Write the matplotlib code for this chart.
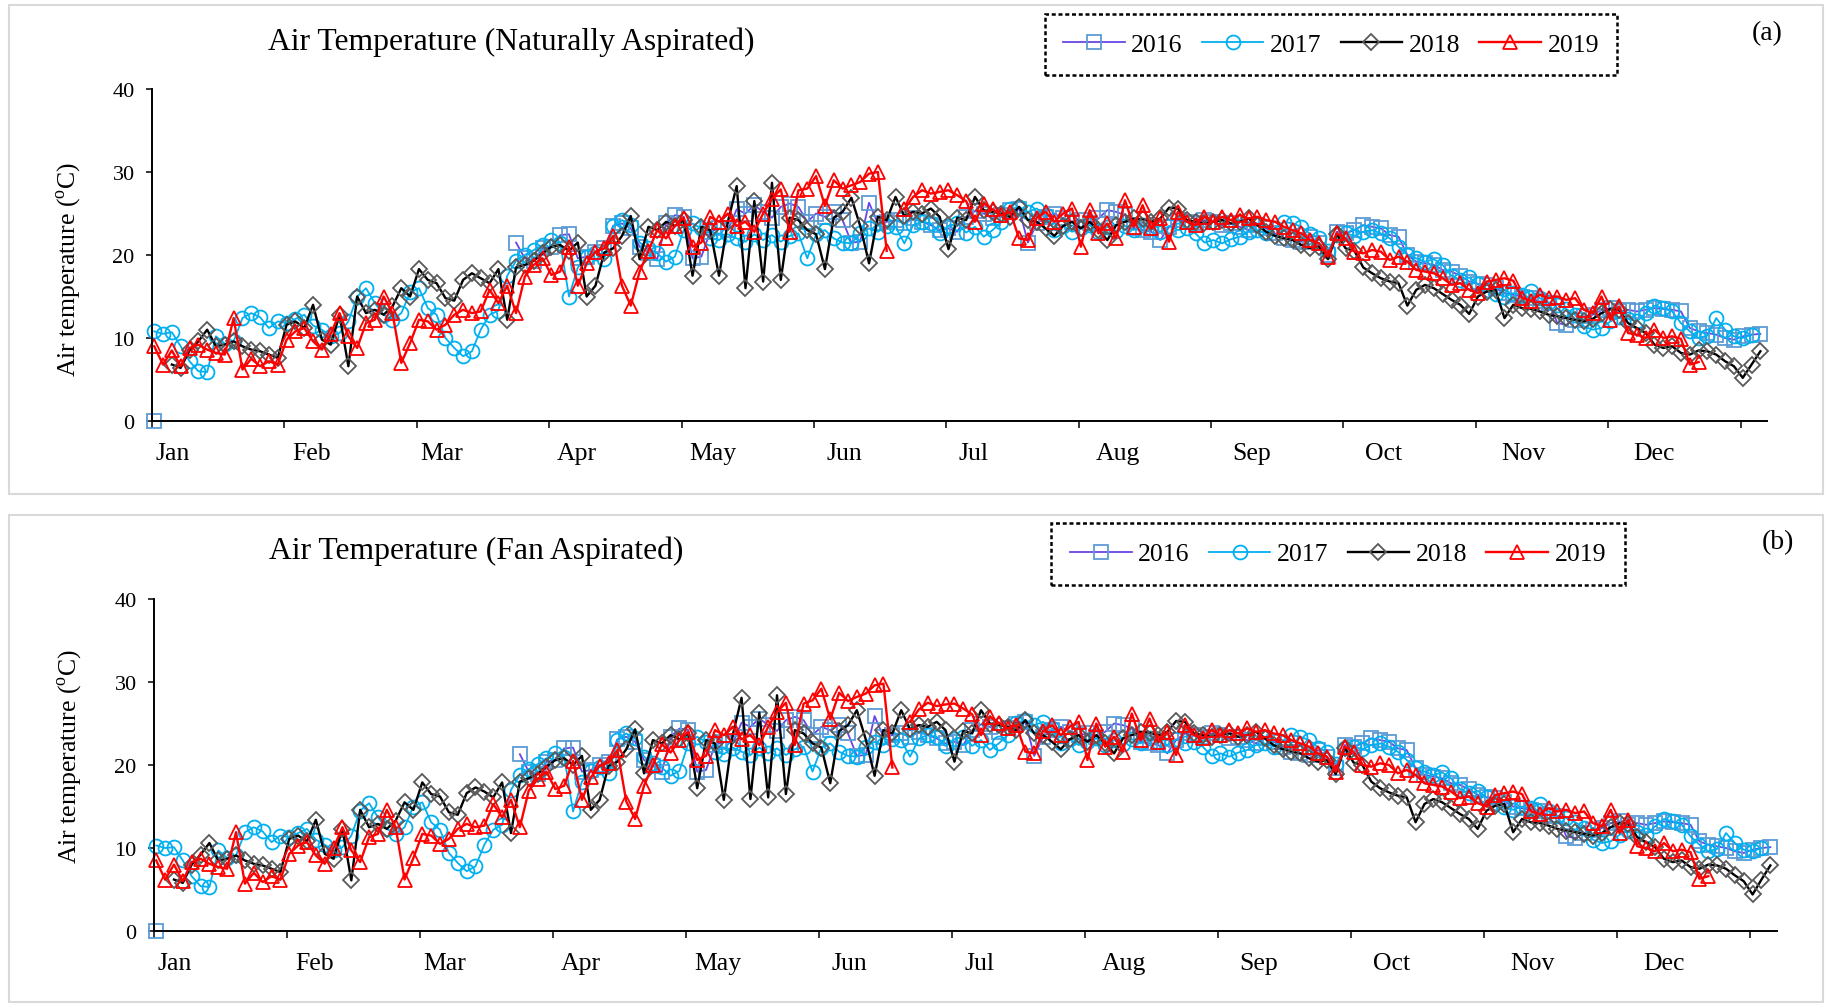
import numpy as np
import matplotlib
matplotlib.use("Agg")
import matplotlib.pyplot as plt
from matplotlib.patches import Rectangle
from matplotlib.lines import Line2D
import matplotlib.transforms as mtransforms

nan = np.nan

plt.rcParams["font.family"] = ["Liberation Serif", "DejaVu Serif"]
plt.rcParams["mathtext.fontset"] = "custom"
plt.rcParams["mathtext.rm"] = "Liberation Serif"

# %% data — values every second day of the year
days = np.arange(0, 366, 2)
months = ["Jan", "Feb", "Mar", "Apr", "May", "Jun",
          "Jul", "Aug", "Sep", "Oct", "Nov", "Dec"]
month_start = [0, 31, 60, 91, 121, 152, 182, 213, 244, 274, 305, 335]
years = ["2016", "2017", "2018", "2019"]

# (a) naturally aspirated
na_2016 = [0.0] + [nan] * 14 + [nan] * 15 + \
    [nan] * 11 + [21.5, 19.6, 19.3, 20.8] + \
    [21.0, 22.4, 22.5, 19.6, 19.8, 20.4, 20.8, 23.5, 23.8, 23.2, 21.0, 20.3, 19.5, 23.8, 24.8,
     24.6, 19.6, 19.8, 22.8, 23.2, 23.0, 25.5, 25.0, 26.0, 25.2, 24.5, 25.8, 26.2, 25.8, 24.0,
     25.0, 24.6, 25.2, 24.2, 21.5, 21.6, 26.3, 23.8, 24.0, 24.2, 23.8, 24.4, 24.0, 23.6, 23.0,
     23.2, 22.8, 24.6, 25.3, 25.0, 24.4, 24.8, 25.4, 25.6, 21.5, 23.8, 24.6, 25.0, 24.4, 24.0,
     24.2, 23.8, 24.4, 25.4, 25.2, 24.8, 23.2, 23.0, 22.8, 21.8, 23.4, 24.2, 24.0, 23.8, 24.2,
     24.0, 23.6, 23.8, 23.4, 23.0, 23.6, 23.2, 22.6, 22.0, 21.8, 21.6, 22.2, 21.4, 20.0, 22.8,
     22.6, 23.0, 23.6, 23.4, 23.2, 22.4, 22.2, 20.0, 19.2, 19.0, 18.8, 18.2, 18.0, 17.5, 16.8,
     16.5, 16.4, 16.0, 15.4, 15.2, 15.0, 14.8, 14.4, 14.2, 11.8, 11.6, 12.2, 12.6, 12.8, 13.4,
     13.6, 13.2, 13.4, 13.2, 13.4, 13.6, 13.5, 13.4, 13.2, 11.2, 10.8, 10.6, 10.4, 10.0, 9.8,
     10.2, 10.4, 10.5]

na_2017 = [10.8, 10.5, 10.7, 9.0, 7.2, 6.0, 5.9, 10.2, 9.3, 9.6, 12.4, 13.0, 12.5, 11.2, 12.0,
           11.8, 12.3, 12.8, 11.5, 11.0, 10.2, 10.6, 12.0, 15.0, 16.0, 14.2, 12.8, 12.2, 13.0, 15.5,
           16.0, 13.6, 12.8, 10.0, 8.8, 7.8, 8.4, 11.0, 12.8, 13.3, 17.5, 19.3, 20.0, 20.6, 21.2,
           21.8, 21.5, 15.0, 18.5, 19.8, 20.3, 19.5, 23.5, 24.2, 23.6, 21.5, 20.8, 20.2, 19.2, 19.8,
           23.0, 23.8, 23.2, 22.0, 21.8, 22.5, 22.0, 21.6, 22.5, 21.8, 22.4, 21.6, 22.3, 22.6, 19.6,
           22.5, 23.0, 22.0, 21.5, 21.4, 22.6, 23.2, 22.8, 23.5, 23.4, 21.4, 23.6, 24.0, 23.8, 22.7,
           23.5, 23.8, 22.7, 23.4, 22.2, 23.0, 24.0, 25.5, 25.8, 25.2, 25.6, 24.8, 23.0, 23.5, 22.8,
           23.2, 23.6, 22.8, 23.4, 22.9, 23.5, 23.0, 23.6, 23.2, 22.8, 23.5, 23.0, 23.2, 22.6, 21.5,
           21.8, 21.4, 21.9, 22.2, 22.8, 23.0, 22.6, 23.2, 24.0, 23.8, 23.4, 22.5, 22.0, 20.5, 22.4,
           22.6, 22.3, 22.8, 23.0, 22.6, 22.0, 21.0, 20.0, 19.6, 19.2, 19.5, 18.8, 17.5, 17.0, 17.3,
           16.5, 15.8, 15.3, 15.0, 15.4, 15.2, 15.7, 14.8, 14.3, 14.0, 13.5, 12.8, 11.4, 11.0, 11.2,
           12.0, 12.5, 12.3, 12.0, 13.0, 13.9, 13.6, 13.2, 11.8, 10.8, 10.0, 10.3, 12.4, 11.0, 10.2,
           10.0, 10.4, nan]

na_2018 = [nan, nan, 6.8, 6.4, 8.5, 9.6, 11.0, 9.0, 9.2, 9.6, 9.0, 8.6, 8.4, 8.0, 7.6,
           11.6, 12.0, 11.2, 14.0, 9.8, 9.2, 12.8, 6.6, 15.0, 13.0, 13.4, 12.8, 13.8, 16.0, 15.0,
           18.3, 17.0, 16.6, 14.8, 14.5, 17.0, 17.8, 17.2, 16.6, 18.3, 12.2, 18.5, 18.8, 19.3, 20.2,
           21.0, 21.2, 20.5, 21.5, 15.0, 16.3, 20.3, 20.8, 22.3, 24.7, 19.5, 23.4, 23.0, 24.0, 23.5,
           24.2, 17.5, 23.4, 23.0, 17.5, 24.0, 28.3, 16.0, 26.5, 16.8, 28.7, 17.0, 24.5, 24.2, 23.0,
           22.5, 18.3, 24.5, 25.2, 26.9, 23.5, 19.0, 24.6, 24.2, 27.0, 24.7, 25.2, 25.0, 25.6, 24.6,
           20.7, 24.5, 24.2, 27.0, 25.4, 25.2, 25.0, 24.6, 25.8, 24.2, 24.0, 23.2, 22.3, 23.5, 24.0,
           23.2, 24.0, 23.0, 21.8, 23.6, 24.0, 24.4, 24.3, 24.0, 24.4, 25.7, 25.6, 24.2, 24.0, 23.8,
           24.0, 24.2, 23.8, 24.0, 24.4, 23.6, 22.8, 22.3, 22.0, 21.8, 21.2, 20.8, 21.0, 19.5, 22.5,
           20.8, 20.5, 18.5, 17.8, 17.2, 16.8, 16.6, 13.9, 15.8, 16.4, 16.0, 15.3, 14.6, 14.0, 12.9,
           15.0, 15.6, 15.8, 12.4, 14.0, 13.6, 13.5, 13.2, 12.8, 12.6, 12.4, 12.2, 12.0, 12.3, 13.0,
           13.5, 13.4, 11.8, 11.2, 10.6, 9.2, 8.8, 9.0, 8.2, 8.0, 8.5, 8.4, 8.0, 7.2, 6.6,
           5.2, 6.8, 8.4]

na_2019 = [9.0, 6.8, 8.5, 6.6, 8.8, 9.2, 8.6, 8.2, 8.0, 12.4, 6.2, 7.5, 6.6, 7.2, 6.8,
           9.8, 10.8, 11.2, 9.6, 8.6, 10.5, 13.0, 10.2, 8.8, 11.8, 12.2, 15.0, 13.0, 7.0, 9.4,
           12.2, 12.0, 11.0, 11.6, 12.8, 13.4, 13.0, 13.2, 15.8, 14.2, 16.3, 13.0, 17.4, 18.8, 19.6,
           17.6, 18.0, 21.0, 16.3, 19.0, 20.4, 20.8, 22.3, 16.3, 13.9, 18.0, 20.5, 23.0, 22.0, 23.5,
           24.5, 21.0, 21.5, 24.6, 24.0, 25.0, 23.5, 24.0, 22.8, 25.0, 26.8, 27.9, 22.8, 27.8, 28.0,
           29.5, 25.9, 29.0, 28.0, 28.4, 28.8, 29.8, 30.0, 20.5, nan, 25.5, 27.0, 27.8, 27.4, 27.6,
           27.8, 27.2, 26.5, 24.0, 26.2, 25.5, 24.8, 25.2, 22.0, 21.8, 24.5, 25.2, 24.0, 25.0, 25.6,
           21.0, 25.4, 22.6, 23.8, 22.0, 26.6, 23.4, 26.0, 23.2, 24.4, 21.6, 25.2, 24.0, 23.6, 24.6,
           24.0, 24.6, 24.2, 24.8, 24.4, 24.6, 24.2, 24.0, 23.4, 23.0, 22.6, 21.8, 21.4, 19.8, 22.6,
           22.0, 20.4, 20.2, 20.6, 20.4, 19.4, 19.8, 19.2, 18.2, 18.0, 17.8, 17.2, 16.4, 16.6, 15.8,
           15.4, 16.8, 17.0, 17.2, 16.9, 14.8, 14.5, 15.2, 14.8, 15.0, 14.6, 14.8, 13.4, 13.0, 15.0,
           12.2, 13.8, 10.6, 10.4, 10.0, 11.0, 10.0, 10.2, 9.9, 6.8, 7.1, nan, nan, nan, nan,
           nan, nan, nan]

# (b) fan aspirated
fa_2016 = [0.0] + [nan] * 14 + [nan] * 15 + \
    [nan] * 11 + [21.3, 19.2, 18.9, 20.4] + \
    [20.6, 22.0, 22.1, 19.2, 19.4, 20.0, 20.4, 23.1, 23.4, 22.8, 20.6, 19.9, 19.1, 23.4, 24.4,
     24.2, 19.2, 19.4, 22.4, 22.8, 22.6, 25.1, 24.6, 25.6, 24.8, 24.1, 25.4, 25.8, 25.4, 23.6,
     24.6, 24.2, 24.8, 23.8, 21.1, 21.2, 25.9, 23.4, 23.6, 23.8, 23.4, 24.0, 23.6, 23.2, 22.6,
     22.8, 22.4, 24.2, 24.9, 24.6, 24.0, 24.4, 25.0, 25.2, 21.1, 23.4, 24.2, 24.6, 24.0, 23.6,
     23.8, 23.4, 24.0, 25.0, 24.8, 24.4, 22.8, 22.6, 22.4, 21.4, 23.0, 23.8, 23.6, 23.4, 23.8,
     23.6, 23.2, 23.4, 23.0, 22.6, 23.2, 22.8, 22.2, 21.6, 21.4, 21.2, 21.8, 21.0, 19.6, 22.4,
     22.2, 22.6, 23.2, 23.0, 22.8, 22.0, 21.8, 19.6, 18.8, 18.6, 18.4, 17.8, 17.6, 17.1, 16.4,
     16.1, 16.0, 15.6, 15.0, 14.8, 14.6, 14.4, 14.0, 13.8, 11.4, 11.2, 11.8, 12.2, 12.4, 13.0,
     13.2, 12.8, 13.0, 12.8, 13.0, 13.2, 13.1, 13.0, 12.8, 10.8, 10.4, 10.2, 10.0, 9.6, 9.4,
     9.8, 10.0, 10.1]

fa_2017 = [10.3, 10.0, 10.1, 8.5, 6.6, 5.4, 5.3, 9.7, 8.8, 9.1, 11.9, 12.5, 12.0, 10.7, 11.5,
           11.3, 11.8, 12.3, 11.0, 10.4, 9.7, 10.1, 11.5, 14.5, 15.4, 13.7, 12.3, 11.7, 12.5, 15.0,
           15.5, 13.1, 12.2, 9.4, 8.2, 7.2, 7.8, 10.4, 12.2, 12.8, 17.0, 18.8, 19.5, 20.1, 20.8,
           21.4, 21.0, 14.4, 18.0, 19.3, 19.8, 19.0, 23.0, 23.8, 23.2, 21.0, 20.3, 19.7, 18.7, 19.3,
           22.6, 23.4, 22.8, 21.6, 21.3, 22.1, 21.6, 21.2, 22.1, 21.4, 22.0, 21.2, 21.9, 22.2, 19.2,
           22.1, 22.6, 21.6, 21.1, 21.0, 22.2, 22.8, 22.4, 23.1, 23.0, 21.0, 23.2, 23.6, 23.4, 22.3,
           23.1, 23.4, 22.3, 23.0, 21.8, 22.6, 23.6, 25.1, 25.4, 24.8, 25.2, 24.4, 22.6, 23.1, 22.4,
           22.8, 23.2, 22.4, 23.0, 22.5, 23.1, 22.6, 23.2, 22.8, 22.4, 23.1, 22.6, 22.8, 22.2, 21.1,
           21.4, 21.0, 21.5, 21.8, 22.4, 22.6, 22.2, 22.8, 23.6, 23.4, 23.0, 22.1, 21.6, 20.1, 22.0,
           22.2, 21.9, 22.4, 22.6, 22.2, 21.6, 20.6, 19.6, 19.2, 18.8, 19.1, 18.4, 17.1, 16.6, 16.9,
           16.1, 15.4, 14.9, 14.6, 15.0, 14.8, 15.3, 14.4, 13.9, 13.6, 13.1, 12.4, 11.0, 10.6, 10.8,
           11.6, 12.1, 11.9, 11.6, 12.6, 13.5, 13.2, 12.8, 11.4, 10.4, 9.6, 9.9, 11.8, 10.6, 9.8,
           9.6, 10.0, nan]

fa_2018 = [nan, nan, 6.2, 5.8, 8.0, 9.2, 10.6, 8.5, 8.7, 9.1, 8.5, 8.1, 7.9, 7.5, 7.1,
           11.1, 11.5, 10.8, 13.4, 9.3, 8.7, 12.3, 6.1, 14.6, 12.5, 12.9, 12.3, 13.3, 15.5, 14.6,
           17.9, 16.5, 16.2, 14.3, 14.0, 16.6, 17.3, 16.8, 16.1, 17.9, 11.8, 18.0, 18.4, 18.9, 19.8,
           20.6, 20.8, 20.0, 21.1, 14.6, 15.8, 19.9, 20.4, 21.9, 24.3, 19.0, 23.0, 22.6, 23.6, 23.1,
           23.8, 17.2, 23.0, 22.6, 15.8, 23.6, 28.1, 15.9, 26.3, 16.1, 28.4, 16.5, 24.2, 23.8, 22.6,
           22.1, 17.8, 24.1, 24.8, 26.6, 23.1, 18.7, 24.2, 23.8, 26.6, 24.3, 24.8, 24.6, 25.2, 24.2,
           20.4, 24.1, 23.8, 26.6, 25.0, 24.8, 24.6, 24.2, 25.4, 23.8, 23.6, 22.8, 21.9, 23.1, 23.6,
           22.8, 23.6, 22.6, 21.4, 23.2, 23.6, 24.0, 23.9, 23.6, 24.0, 25.3, 25.2, 23.8, 23.6, 23.4,
           23.6, 23.8, 23.4, 23.6, 24.0, 23.2, 22.4, 21.9, 21.6, 21.4, 20.8, 20.4, 20.6, 18.9, 22.1,
           20.3, 20.0, 18.0, 17.2, 16.7, 16.3, 16.1, 13.1, 15.3, 15.9, 15.5, 14.8, 14.1, 13.5, 12.3,
           14.5, 15.1, 15.3, 11.9, 13.5, 13.1, 13.0, 12.7, 12.3, 12.1, 11.9, 11.7, 11.5, 11.8, 12.5,
           13.0, 12.9, 11.3, 10.7, 10.1, 8.7, 8.3, 8.5, 7.7, 7.5, 8.0, 7.9, 7.5, 6.7, 6.0,
           4.4, 6.2, 7.9]

fa_2019 = [8.5, 6.2, 8.0, 6.0, 8.3, 8.7, 8.1, 7.7, 7.5, 11.9, 5.7, 7.0, 5.9, 6.6, 6.2,
           9.3, 10.3, 10.7, 9.1, 8.1, 10.0, 12.5, 9.7, 8.3, 11.3, 11.7, 14.6, 12.5, 6.2, 8.8,
           11.7, 11.5, 10.5, 11.1, 12.3, 12.9, 12.5, 12.7, 15.3, 13.7, 15.8, 12.5, 16.9, 18.3, 19.2,
           17.1, 17.5, 20.5, 15.8, 18.5, 19.9, 20.3, 21.8, 15.6, 13.5, 17.5, 20.0, 22.5, 21.5, 23.0,
           24.0, 20.6, 21.1, 24.2, 23.6, 24.6, 23.1, 23.6, 22.4, 24.6, 26.4, 27.5, 22.4, 27.4, 27.8,
           29.2, 25.5, 28.7, 27.7, 28.2, 28.6, 29.6, 29.8, 19.7, nan, 25.2, 26.7, 27.5, 27.1, 27.3,
           27.4, 26.8, 26.1, 23.6, 25.8, 25.1, 24.4, 24.8, 21.6, 21.4, 24.1, 24.8, 23.6, 24.6, 25.2,
           20.6, 25.0, 22.2, 23.4, 21.6, 26.2, 23.0, 25.6, 22.8, 24.0, 21.2, 24.8, 23.6, 23.2, 24.2,
           23.6, 24.2, 23.8, 24.4, 24.0, 24.2, 23.8, 23.6, 23.0, 22.6, 22.2, 21.4, 21.0, 19.2, 22.2,
           21.6, 20.0, 19.8, 20.2, 20.0, 19.0, 19.4, 18.8, 17.8, 17.6, 17.4, 16.8, 16.0, 16.2, 15.4,
           15.0, 16.4, 16.6, 16.8, 16.5, 14.4, 14.1, 14.8, 14.4, 14.6, 14.2, 14.4, 13.0, 12.6, 14.6,
           11.8, 13.4, 10.2, 10.0, 9.6, 10.6, 9.6, 9.8, 9.5, 6.3, 6.6, nan, nan, nan, nan,
           nan, nan, nan]

# %% styles
STYLE = {
    "2016": dict(color="#6A45E6", marker="s", mec="#5B9BD5", ms=9.5, lw=1.3),
    "2017": dict(color="#00B0F0", marker="o", mec="#00B0F0", ms=10.0, lw=1.3),
    "2018": dict(color="black",   marker="D", mec="#595959", ms=7.8, lw=1.7),
    "2019": dict(color="#FF0000", marker="^", mec="#FF0000", ms=10.5, lw=1.7),
}

W, H = 1827, 1004
fig = plt.figure(figsize=(W / 100, H / 100), dpi=100)


def fx(px):
    return px / W


def fy(py):
    return 1 - py / H


def panel(ax_rect, series, title, title_xy, legend_box, tag, tag_xy, ylab_y):
    ax = fig.add_axes(ax_rect)
    for yr, vals in zip(years, series):
        st = STYLE[yr]
        ax.plot(days + 0.5, vals, color=st["color"], lw=st["lw"], marker=st["marker"],
                ms=st["ms"], mfc="none", mec=st["mec"], mew=1.3, clip_on=False)

    ax.set_xlim(0, 366)
    ax.set_ylim(0, 40)
    ax.set_xticks(np.arange(0, 361, 30))
    ax.set_xticklabels([])
    ax.set_yticks([0, 10, 20, 30, 40])
    ax.tick_params(axis="y", direction="out", length=4.5, width=1.1, labelsize=16, pad=8)
    ax.tick_params(axis="x", direction="out", length=5, width=1.1)
    for s in ["top", "right"]:
        ax.spines[s].set_visible(False)
    for s in ["left", "bottom"]:
        ax.spines[s].set_linewidth(1.4)

    trans = mtransforms.blended_transform_factory(ax.transData, ax.transAxes)
    for m, d in zip(months, month_start):
        ax.text(d + 0.8, -0.062, m, transform=trans, ha="left", va="top", fontsize=18.5)

    ax.set_ylabel("Air temperature ($^{\\mathrm{o}}$C)", fontsize=18.5)
    ax.yaxis.set_label_coords(-0.043, ylab_y)

    fig.text(title_xy[0], title_xy[1], title, ha="left", va="center", fontsize=22.8)
    fig.text(tag_xy[0], tag_xy[1], tag, ha="center", va="center", fontsize=20)

    handles = [Line2D([], [], color=STYLE[y]["color"], lw=STYLE[y]["lw"], marker=STYLE[y]["marker"],
                      ms=STYLE[y]["ms"], mfc="none", mec=STYLE[y]["mec"], mew=1.3) for y in years]
    x0, y0, w, h = legend_box
    ax.legend(handles, years, loc="center", bbox_to_anchor=(x0 + w / 2, y0 + h / 2),
              bbox_transform=fig.transFigure, ncol=4, frameon=False, fontsize=18.5,
              handlelength=2.4, handletextpad=0.25, columnspacing=0.75)
    fig.patches.append(Rectangle((x0, y0), w, h, transform=fig.transFigure, fill=False,
                                 ec="black", lw=1.8, ls=(0, (1.6, 1.1))))
    return ax


# panel frames
fig.patches.append(Rectangle((fx(9), fy(495)), fx(1814), 489 / H, transform=fig.transFigure,
                             fill=False, ec="#D9D9D9", lw=1.5))
fig.patches.append(Rectangle((fx(9), fy(1003)), fx(1814), 487 / H, transform=fig.transFigure,
                             fill=False, ec="#D9D9D9", lw=1.5))

panel([fx(152), fy(422), fx(1767 - 152), 332 / H],
      [na_2016, na_2017, na_2018, na_2019],
      "Air Temperature (Naturally Aspirated)", (fx(268), fy(42)),
      (fx(1045), fy(76), fx(572), 61 / H), "(a)", (fx(1767), fy(34)), 0.46)

panel([fx(154), fy(932), fx(1777 - 154), 332 / H],
      [fa_2016, fa_2017, fa_2018, fa_2019],
      "Air Temperature (Fan Aspirated)", (fx(269), fy(551)),
      (fx(1051), fy(586), fx(574), 62 / H), "(b)", (fx(1778), fy(543)), 0.53)

fig.savefig("out.png", dpi=100)
